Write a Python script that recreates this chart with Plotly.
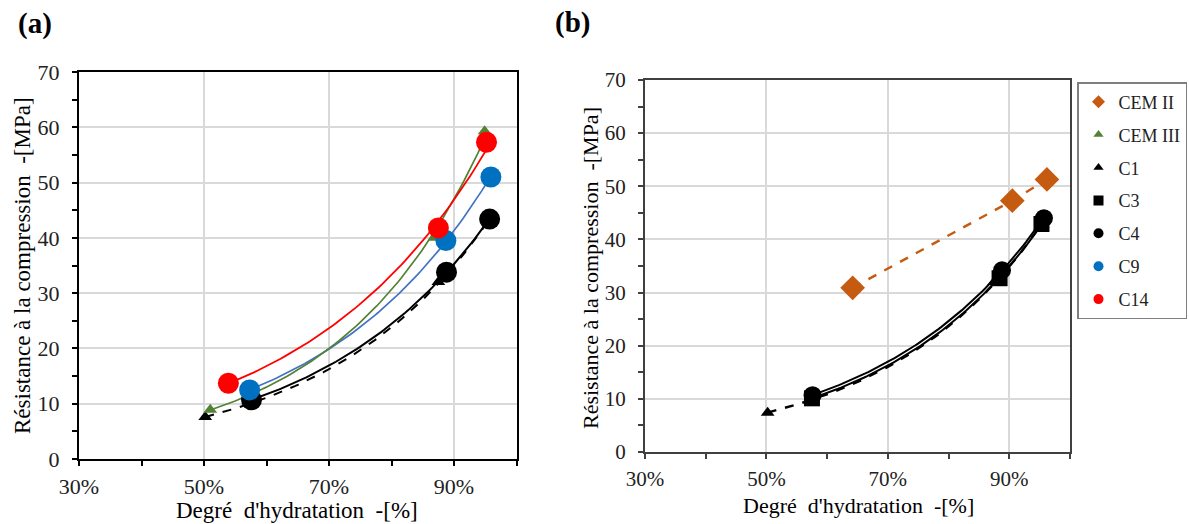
import numpy as np
import plotly.graph_objects as go

# ---------------- data ----------------
# Panel (a)
cem3_x = [0.510, 0.869, 0.949]
cem3_y = [8.9, 40.0, 59.3]
c1_x = [0.502, 0.875, 0.955]
c1_y = [7.6, 32.0, 42.8]
c4_x = [0.576, 0.888, 0.957]
c4_y = [10.7, 33.8, 43.4]
c9_x = [0.573, 0.887, 0.959]
c9_y = [12.5, 39.5, 51.0]
c14_x = [0.539, 0.875, 0.952]
c14_y = [13.7, 41.8, 57.3]
# Panel (b)
cem2_x = [0.642, 0.905, 0.962]
cem2_y = [30.9, 47.3, 51.3]
c3_x = [0.575, 0.884, 0.953]
c3_y = [10.1, 32.7, 42.9]
c4b_x = [0.576, 0.888, 0.957]
c4b_y = [10.7, 34.2, 44.0]
c1b_x = [0.502, 0.875, 0.955]
c1b_y = [7.4, 32.0, 42.8]

legend_names = ["CEM II", "CEM III", "C1", "C3", "C4", "C9", "C14"]
x_ticks = [0.3, 0.5, 0.7, 0.9]
y_ticks = [0, 10, 20, 30, 40, 50, 60, 70]

W, H = 1189, 524
FONT = "Liberation Serif"

RED = "#FF0000"
BLUE_M = "#0070C0"
BLUE_L = "#4472C4"
GREEN = "#548235"
ORANGE = "#C55A11"
BLACK = "#000000"

legend_style = {
    "CEM II": (ORANGE, "diamond", 10),
    "CEM III": (GREEN, "triangle-up", 9),
    "C1": (BLACK, "triangle-up", 9),
    "C3": (BLACK, "square", 10),
    "C4": (BLACK, "circle", 10),
    "C9": (BLUE_M, "circle", 10),
    "C14": (RED, "circle", 10),
}


def expfit(xs, ys, n=80):
    b, ln_a = np.polyfit(np.array(xs), np.log(np.array(ys)), 1)
    xx = np.linspace(min(xs), max(xs), n)
    return xx, np.exp(ln_a) * np.exp(b * xx)


fig = go.Figure()


def trend(xs, ys, color, dash, width, xa, ya):
    xx, yy = expfit(xs, ys)
    fig.add_trace(go.Scatter(x=xx, y=yy, mode="lines", xaxis=xa, yaxis=ya,
                             line=dict(color=color, dash=dash, width=width),
                             showlegend=False, hoverinfo="skip"))


def pts(xs, ys, name, color, symbol, size, xa, ya):
    fig.add_trace(go.Scatter(x=xs, y=ys, mode="markers", name=name, xaxis=xa, yaxis=ya,
                             marker=dict(color=color, symbol=symbol, size=size, line=dict(width=0)),
                             showlegend=False))


# Panel (a)
trend(c1_x, c1_y, BLACK, "dash", 2, "x", "y")
trend(c4_x, c4_y, BLACK, "solid", 2, "x", "y")
trend(c9_x, c9_y, BLUE_L, "solid", 1.7, "x", "y")
trend(cem3_x, cem3_y, GREEN, "solid", 1.7, "x", "y")
trend(c14_x, c14_y, RED, "solid", 1.8, "x", "y")
pts(c1_x, c1_y, "C1", BLACK, "triangle-up", 12, "x", "y")
pts(cem3_x, cem3_y, "CEM III", GREEN, "triangle-up", 12, "x", "y")
pts(c4_x, c4_y, "C4", BLACK, "circle", 21, "x", "y")
pts(c9_x, c9_y, "C9", BLUE_M, "circle", 21, "x", "y")
pts(c14_x, c14_y, "C14", RED, "circle", 21, "x", "y")

# Panel (b)
fig.add_trace(go.Scatter(x=cem2_x, y=cem2_y, mode="lines", xaxis="x2", yaxis="y2",
                         line=dict(color=ORANGE, dash="dash", width=2.4),
                         showlegend=False, hoverinfo="skip"))
trend(c1b_x, c1b_y, BLACK, "dash", 2.4, "x2", "y2")
trend(c3_x, c3_y, BLACK, "solid", 2, "x2", "y2")
trend(c4b_x, c4b_y, BLACK, "solid", 2, "x2", "y2")
pts(cem2_x, cem2_y, "CEM II", ORANGE, "diamond", 19, "x2", "y2")
pts(c1b_x, c1b_y, "C1", BLACK, "triangle-up", 12, "x2", "y2")
pts(c3_x, c3_y, "C3", BLACK, "square", 16, "x2", "y2")
pts(c4b_x, c4b_y, "C4", BLACK, "circle", 18, "x2", "y2")

# legend entries (markers only, as in the reference legend)
for rank, name in enumerate(legend_names):
    col, sym, sz = legend_style[name]
    fig.add_trace(go.Scatter(x=[None], y=[None], mode="markers", name=name,
                             xaxis="x2", yaxis="y2", legendrank=rank + 1,
                             legendgroup=name,
                             marker=dict(color=col, symbol=sym, size=sz, line=dict(width=0))))


def xaxis(domain, anchor, lc, fs):
    return dict(domain=domain, anchor=anchor, range=[0.3, 1.0], tickvals=x_ticks,
                tickformat=".0%", showgrid=True, gridcolor="#D9D9D9", gridwidth=1.5,
                zeroline=False, showline=True, linecolor=lc, linewidth=2, mirror=True,
                ticks="outside", ticklen=5, tickwidth=1.5, tickcolor=lc,
                minor=dict(dtick=0.1, tick0=0.3, ticks="outside", ticklen=5, tickwidth=1.5,
                           tickcolor=lc, showgrid=False),
                tickfont=dict(family=FONT, size=fs, color="#222"), ticklabelstandoff=2,
                fixedrange=True)


def yaxis(domain, anchor, lc, fs):
    return dict(domain=domain, anchor=anchor, range=[0, 70], tickvals=y_ticks,
                showgrid=True, gridcolor="#D9D9D9", gridwidth=1.5,
                zeroline=False, showline=True, linecolor=lc, linewidth=2, mirror=True,
                ticks="outside", ticklen=5, tickwidth=1.5, tickcolor=lc,
                minor=dict(dtick=5, ticks="outside", ticklen=5, tickwidth=1.5,
                           tickcolor=lc, showgrid=False),
                tickfont=dict(family=FONT, size=fs, color="#222"), ticklabelstandoff=8,
                fixedrange=True)


fig.update_layout(
    width=W, height=H,
    margin=dict(l=0, r=0, t=0, b=0, autoexpand=False),
    paper_bgcolor="white", plot_bgcolor="white",
    xaxis=xaxis([79 / W, 516.5 / W], "y", BLACK, 22),
    yaxis=yaxis([(H - 459) / H, (H - 72) / H], "x", BLACK, 22),
    xaxis2=xaxis([645 / W, 1070 / W], "y2", "#404040", 21),
    yaxis2=yaxis([(H - 452) / H, (H - 80) / H], "x2", "#404040", 21),
    legend=dict(x=1187 / W, xanchor="right", y=(H - 82) / H, yanchor="top",
                bordercolor="#7F7F7F", borderwidth=1.5, bgcolor="white",
                font=dict(family=FONT, size=18, color="#222"),
                itemsizing="trace", traceorder="grouped", tracegroupgap=6.5,
                itemwidth=30),
    showlegend=True,
)

ann = [
    dict(text="<b>(a)</b>", x=35 / W, y=(H - 24) / H, font=dict(size=29)),
    dict(text="<b>(b)</b>", x=572 / W, y=(H - 22) / H, font=dict(size=29)),
    dict(text="Degré  d'hydratation  -[%]", x=297 / W, y=(H - 510) / H, font=dict(size=23)),
    dict(text="Degré  d'hydratation  -[%]", x=858 / W, y=(H - 505) / H, font=dict(size=22)),
    dict(text="Résistance à la compression  -[MPa]", x=22 / W, y=(H - 266) / H,
         font=dict(size=23), textangle=-90),
    dict(text="Résistance à la compression  -[MPa]", x=590 / W, y=(H - 268) / H,
         font=dict(size=22), textangle=-90),
]
for a in ann:
    a.update(xref="paper", yref="paper", showarrow=False, xanchor="center", yanchor="middle")
    a["font"].update(family=FONT, color="#000")
    fig.add_annotation(**a)

fig.write_html("out.html",
               config={"displayModeBar": False},
               post_script="document.body.style.margin='0px';document.body.style.overflow='hidden';")
